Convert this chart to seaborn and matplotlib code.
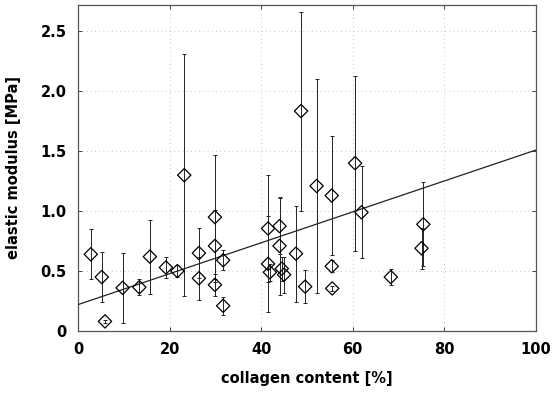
import matplotlib
matplotlib.use("Agg")
import matplotlib.pyplot as plt
import seaborn as sns
import numpy as np
import pandas as pd

# collagen content [%], mean elastic modulus [MPa] and its standard deviation
collagen = [2.8, 5.2, 5.9, 9.75, 13.4, 15.7, 19.2, 21.7, 23.2, 26.4, 26.4,
            29.9, 29.9, 29.9, 31.7, 31.7, 41.5, 41.5, 41.9, 44.0, 44.0, 44.5,
            45.0, 47.6, 48.7, 49.6, 52.1, 55.4, 55.4, 55.5, 60.5, 61.9, 68.3,
            75.4, 75.0]
modulus = [0.64, 0.45, 0.08, 0.36, 0.365, 0.62, 0.53, 0.50, 1.30, 0.65, 0.44,
           0.95, 0.71, 0.385, 0.59, 0.21, 0.855, 0.56, 0.49, 0.875, 0.71, 0.52,
           0.47, 0.645, 1.835, 0.37, 1.21, 1.13, 0.54, 0.355, 1.40, 0.99, 0.45,
           0.89, 0.69]
modulus_sd = [0.21, 0.205, 0.01, 0.29, 0.065, 0.31, 0.085, 0.05, 1.01, 0.21, 0.18,
              0.52, 0.30, 0.09, 0.085, 0.075, 0.45, 0.40, 0.07, 0.235, 0.41, 0.10,
              0.15, 0.40, 0.83, 0.14, 0.89, 0.50, 0.05, 0.02, 0.73, 0.385, 0.065,
              0.35, 0.17]

# linear trend line end points
fit_x = [0, 100]
fit_y = [0.22, 1.51]

x_ticks = [0, 20, 40, 60, 80, 100]
y_ticks = [0, 0.5, 1.0, 1.5, 2.0, 2.5]
y_tick_labels = ["0", "0.5", "1.0", "1.5", "2.0", "2.5"]

df = pd.DataFrame({"collagen": collagen, "modulus": modulus, "sd": modulus_sd})
fit = pd.DataFrame({"x": fit_x, "y": fit_y})

sns.set_theme(style="white")
plt.rcParams["font.family"] = ["DejaVu Sans"]
plt.rcParams["font.weight"] = "bold"
for key in ("text.color", "axes.labelcolor", "xtick.labelcolor", "ytick.labelcolor"):
    plt.rcParams[key] = "black"

fig = plt.figure(figsize=(5.55, 3.93), dpi=100)
ax = fig.add_axes([0.1405, 0.1578, 0.8253, 0.8295])

# faint dotted grid
for gx in x_ticks[1:-1]:
    ax.axvline(gx, color="#b0b0b0", lw=0.6, ls=(0, (1, 4)), zorder=0)
for gy in y_ticks[1:]:
    ax.axhline(gy, color="#b0b0b0", lw=0.6, ls=(0, (1, 4)), zorder=0)

ax.errorbar(df["collagen"], df["modulus"], yerr=df["sd"], fmt="none",
            ecolor="#222222", elinewidth=0.7, capsize=1.6, capthick=0.7, zorder=2)
sns.lineplot(data=fit, x="x", y="y", color="#222222", lw=0.9, ax=ax, zorder=3)

# open diamonds
sns.scatterplot(data=df, x="collagen", y="modulus", marker="D", s=46,
                facecolor="none", edgecolor="black", linewidth=0.9, ax=ax, zorder=4)

ax.set_xlim(0, 100)
ax.set_ylim(0, 2.72)
ax.set_xticks(x_ticks)
ax.set_yticks(y_ticks)
ax.set_yticklabels(y_tick_labels)
ax.tick_params(direction="in", length=3, width=0.7, color="#444444",
               labelcolor="black",
               top=True, right=True, bottom=True, left=True,
               labelsize=10.5, pad=8)
for lab in ax.get_xticklabels() + ax.get_yticklabels():
    lab.set_fontweight("bold")

ax.set_xlabel("collagen content [%]", fontsize=10.5, fontweight="bold",
              labelpad=10, color="black")
ax.set_ylabel("elastic modulus [MPa]", fontsize=10.5, fontweight="bold",
              labelpad=14, color="black")

for side, sp in ax.spines.items():
    sp.set_color("#555555")
    sp.set_linewidth(0.9)
    sp.set_visible(True)

fig.savefig("out.png", dpi=100)
